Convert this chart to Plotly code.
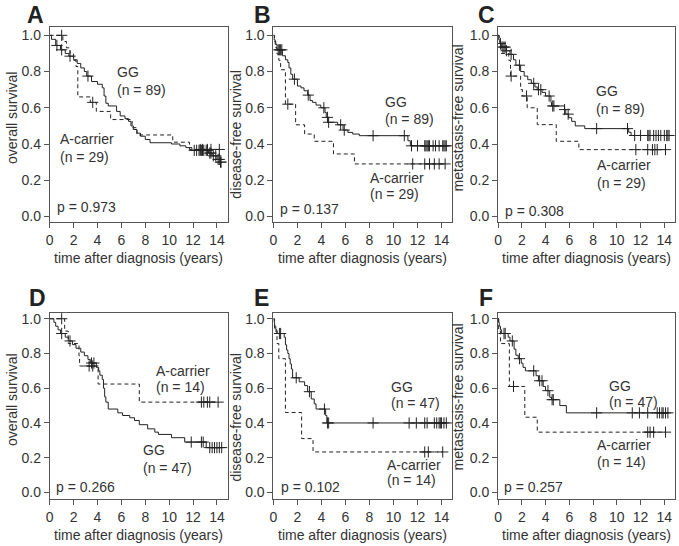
import plotly.graph_objects as go

# ---------------- data ----------------
# Panel A: overall survival, all patients
A_gg_t = [0.15, 0.5, 0.9, 1.3, 1.6, 2.0, 2.3, 2.6, 2.9, 3.1, 3.5, 4.0, 4.4, 4.55, 4.7, 4.9, 5.6, 5.9, 6.3, 6.6, 6.8, 7.0, 7.3, 7.6, 8.0, 8.4, 10.2, 10.9, 11.4, 11.9, 13.3, 13.6, 14.0, 14.3]
A_gg_s = [0.978, 0.944, 0.92, 0.90, 0.885, 0.865, 0.845, 0.82, 0.80, 0.775, 0.745, 0.73, 0.71, 0.665, 0.625, 0.61, 0.58, 0.555, 0.54, 0.525, 0.50, 0.48, 0.46, 0.443, 0.425, 0.407, 0.40, 0.39, 0.38, 0.365, 0.35, 0.335, 0.315, 0.30]
A_gg_c = [0.6, 1.0, 1.7, 3.2, 12.1, 12.3, 12.5, 12.6, 12.7, 12.8, 12.9, 13.1, 13.2, 13.4, 13.5, 13.7, 13.9, 14.1, 14.2, 14.3, 14.35]
A_ac_t = [1.1, 1.4, 1.7, 2.0, 2.2, 2.35, 3.4, 3.9, 5.1, 6.9, 7.3, 10.3, 11.7]
A_ac_s = [0.966, 0.931, 0.897, 0.862, 0.828, 0.66, 0.63, 0.58, 0.535, 0.49, 0.45, 0.41, 0.37]
A_ac_c = [1.0, 3.6, 12.6, 12.8, 13.2, 13.5, 14.2]

# Panel B: disease-free survival, all patients
B_gg_t = [0.05, 0.15, 0.3, 0.75, 1.0, 1.2, 1.3, 1.45, 1.6, 2.0, 2.3, 2.55, 2.85, 3.05, 3.25, 3.55, 3.95, 4.3, 4.4, 4.55, 5.35, 5.8, 6.2, 6.6, 7.15, 11.2, 11.4]
B_gg_s = [0.975, 0.95, 0.92, 0.887, 0.865, 0.85, 0.82, 0.785, 0.758, 0.72, 0.71, 0.694, 0.67, 0.64, 0.63, 0.615, 0.60, 0.574, 0.547, 0.52, 0.506, 0.477, 0.464, 0.455, 0.446, 0.418, 0.39]
B_gg_c = [0.4, 0.5, 0.6, 0.7, 1.75, 2.9, 4.2, 4.5, 4.6, 5.6, 5.9, 8.3, 10.9, 11.5, 12.0, 12.6, 12.7, 12.8, 12.9, 13.0, 13.3, 13.5, 13.8, 14.1, 14.2, 14.3, 14.4]
B_ac_t = [0.1, 0.2, 0.3, 0.45, 0.6, 1.0, 1.85, 2.6, 3.4, 5.0, 6.75]
B_ac_s = [0.966, 0.931, 0.897, 0.862, 0.81, 0.62, 0.506, 0.455, 0.415, 0.345, 0.29]
B_ac_c = [1.2, 11.6, 12.6, 13.0, 13.4, 13.8, 14.3]

# Panel C: metastasis-free survival, all patients
C_gg_t = [0.05, 0.15, 0.3, 0.7, 1.0, 1.3, 1.5, 1.9, 2.2, 2.5, 2.8, 3.1, 3.3, 3.7, 4.0, 4.45, 4.5, 5.6, 5.7, 5.95, 6.2, 6.5, 7.3, 11.0, 11.2]
C_gg_s = [0.975, 0.955, 0.935, 0.915, 0.895, 0.865, 0.835, 0.80, 0.775, 0.755, 0.735, 0.715, 0.70, 0.685, 0.665, 0.63, 0.61, 0.59, 0.565, 0.545, 0.525, 0.50, 0.485, 0.465, 0.447]
C_gg_c = [0.2, 0.4, 0.5, 0.6, 0.7, 1.1, 1.8, 3.0, 3.4, 3.6, 4.3, 4.6, 4.7, 5.6, 5.9, 8.3, 10.9, 11.5, 12.0, 12.6, 12.7, 12.8, 13.1, 13.3, 13.5, 13.7, 14.0, 14.2, 14.3, 14.4]
C_ac_t = [0.1, 0.25, 0.9, 1.05, 1.9, 2.05, 2.45, 3.3, 4.9, 6.8]
C_ac_s = [0.966, 0.90, 0.862, 0.775, 0.70, 0.665, 0.60, 0.507, 0.415, 0.369]
C_ac_c = [1.1, 2.4, 11.6, 12.6, 13.0, 13.2, 13.4, 14.1]

# Panel D: overall survival, subgroup
D_gg_t = [0.35, 0.5, 0.7, 0.9, 1.3, 1.55, 1.9, 2.2, 2.6, 2.9, 3.2, 3.4, 3.9, 4.1, 4.2, 4.4, 4.5, 4.6, 4.7, 4.9, 5.7, 6.1, 6.7, 7.1, 7.5, 8.2, 8.8, 9.1, 10.2, 11.3, 13.1]
D_gg_s = [0.979, 0.957, 0.936, 0.915, 0.894, 0.872, 0.851, 0.83, 0.808, 0.787, 0.766, 0.745, 0.72, 0.70, 0.675, 0.65, 0.60, 0.55, 0.52, 0.48, 0.458, 0.443, 0.43, 0.414, 0.39, 0.366, 0.347, 0.334, 0.315, 0.29, 0.258]
D_gg_c = [1.0, 1.7, 3.5, 3.7, 11.85, 12.7, 12.85, 13.4, 13.6, 13.8, 14.0, 14.2, 14.4]
D_ac_t = [1.25, 1.55, 2.45, 2.5, 4.05, 7.5]
D_ac_s = [0.929, 0.857, 0.786, 0.728, 0.624, 0.52]
D_ac_c = [1.0, 3.3, 3.6, 12.7, 12.9, 13.2, 13.4, 14.1]

# Panel E: disease-free survival, subgroup
E_gg_t = [0.05, 0.1, 0.2, 0.3, 0.9, 1.0, 1.1, 1.2, 1.3, 1.4, 1.5, 1.6, 2.15, 2.6, 2.85, 3.15, 3.4, 3.55, 4.35, 4.45]
E_gg_s = [0.979, 0.957, 0.936, 0.915, 0.894, 0.85, 0.82, 0.80, 0.77, 0.74, 0.71, 0.66, 0.637, 0.615, 0.58, 0.538, 0.51, 0.48, 0.443, 0.40]
E_gg_c = [0.5, 0.6, 1.9, 3.0, 4.25, 4.5, 4.6, 8.3, 11.3, 11.9, 12.6, 12.8, 13.4, 13.6, 13.8, 13.9, 14.0, 14.2, 14.4]
E_ac_t = [0.1, 0.3, 0.45, 1.0, 2.35, 3.3]
E_ac_s = [0.929, 0.857, 0.77, 0.46, 0.31, 0.233]
E_ac_c = [12.6, 12.9, 14.1]

# Panel F: metastasis-free survival, subgroup
F_gg_t = [0.05, 0.1, 0.2, 0.3, 0.85, 1.0, 1.35, 1.5, 1.7, 1.95, 2.1, 2.3, 3.2, 3.4, 3.8, 4.0, 4.35, 4.5, 5.2, 5.75]
F_gg_s = [0.979, 0.957, 0.936, 0.915, 0.894, 0.872, 0.825, 0.79, 0.77, 0.744, 0.72, 0.70, 0.672, 0.643, 0.61, 0.586, 0.548, 0.534, 0.50, 0.458]
F_gg_c = [0.5, 0.6, 1.2, 1.8, 3.0, 3.5, 3.7, 4.2, 4.55, 4.65, 8.3, 11.3, 11.9, 12.6, 13.4, 13.6, 13.8, 13.9, 14.1, 14.3]
F_ac_t = [0.05, 0.2, 0.95, 2.25, 3.3]
F_ac_s = [0.929, 0.857, 0.61, 0.433, 0.347]
F_ac_c = [1.3, 12.6, 12.8, 13.1, 14.1]

panel_letters = ["A", "B", "C", "D", "E", "F"]
y_titles = ["overall survival", "disease-free survival", "metastasis-free survival",
            "overall survival", "disease-free survival", "metastasis-free survival"]
x_title = "time after diagnosis (years)"
p_values = ["p = 0.973", "p = 0.137", "p = 0.308", "p = 0.266", "p = 0.102", "p = 0.257"]
n_gg = [89, 89, 89, 47, 47, 47]
n_ac = [29, 29, 29, 14, 14, 14]
x_ticks = [0, 2, 4, 6, 8, 10, 12, 14]
y_ticks = [0.0, 0.2, 0.4, 0.6, 0.8, 1.0]

panels = [
    (A_gg_t, A_gg_s, A_gg_c, A_ac_t, A_ac_s, A_ac_c),
    (B_gg_t, B_gg_s, B_gg_c, B_ac_t, B_ac_s, B_ac_c),
    (C_gg_t, C_gg_s, C_gg_c, C_ac_t, C_ac_s, C_ac_c),
    (D_gg_t, D_gg_s, D_gg_c, D_ac_t, D_ac_s, D_ac_c),
    (E_gg_t, E_gg_s, E_gg_c, E_ac_t, E_ac_s, E_ac_c),
    (F_gg_t, F_gg_s, F_gg_c, F_ac_t, F_ac_s, F_ac_c),
]

# ---------------- layout geometry ----------------
W, H = 679, 546
FONT = "Liberation Sans, Arial, sans-serif"
TXT = "#333333"
LINE = "#222222"
FRAME = "#555555"
FS = 14

col_px = [(46, 225), (271, 451), (497, 675)]
row_px = [(25, 221.7), (313.3, 500.7)]
row_yrange = [[-0.031, 1.047], [-0.038, 1.033]]
x_range = [0, 14.9]

# label positions (text placement in data coords, left aligned)
gg_pos = [(5.77, 0.80, 0.70), (9.48, 0.63, 0.538), (8.4, 0.69, 0.596),
          (7.95, 0.242, 0.141), (10.0, 0.605, 0.513), (9.52, 0.615, 0.523)]
ac_pos = [(1.03, 0.425, 0.33), (8.2, 0.211, 0.125), (8.46, 0.286, 0.185),
          (9.06, 0.70, 0.605), (9.66, 0.16, 0.07), (8.54, 0.275, 0.176)]
p_pos = [(0.75, 0.051), (0.75, 0.042), (0.73, 0.031), (0.7, 0.032), (0.76, 0.032), (0.7, 0.032)]
ytitle_pos = [(8, 116), (233, 134), (457, 117), (8, 400), (233, 419), (457, 398)]
letter_pos = [(21, 13), (249, 13), (475, 13), (23, 298), (249, 298), (476, 298)]
xtitle_y = [258, 537]


def surv_at(t, times, surv):
    s = 1.0
    for ti, si in zip(times, surv):
        if ti <= t:
            s = si
    return s


fig = go.Figure()
layout_axes = {}
for i, (gt, gs, gc, at, as_, ac) in enumerate(panels):
    r, c = divmod(i, 3)
    ax = "" if i == 0 else str(i + 1)
    xa, ya = "x" + ax, "y" + ax
    x0, x1 = col_px[c]
    y0, y1 = row_px[r]
    layout_axes["xaxis" + ax] = dict(
        domain=[x0 / W, x1 / W], range=x_range, anchor=ya,
        tickvals=x_ticks, ticks="outside", ticklen=5, tickcolor=FRAME,
        showline=True, linecolor=FRAME, linewidth=1, mirror=True,
        showgrid=False, zeroline=False,
        tickfont=dict(family=FONT, size=FS, color=TXT))
    layout_axes["yaxis" + ax] = dict(
        domain=[1 - y1 / H, 1 - y0 / H], range=row_yrange[r], anchor=xa,
        tickvals=y_ticks, tickformat=".1f", ticks="outside", ticklen=5, tickcolor=FRAME,
        showline=True, linecolor=FRAME, linewidth=1, mirror=True,
        showgrid=False, zeroline=False,
        tickfont=dict(family=FONT, size=FS, color=TXT))

    for times, surv, cens, dash in ((at, as_, ac, "4px,3px"), (gt, gs, gc, "solid")):
        end = max(max(cens), times[-1])
        fig.add_trace(go.Scatter(
            x=[0] + times + [end], y=[1.0] + surv + [surv[-1]],
            mode="lines", line=dict(shape="hv", color=LINE, width=1, dash=dash),
            xaxis=xa, yaxis=ya, showlegend=False, hoverinfo="skip"))
        fig.add_trace(go.Scatter(
            x=cens, y=[surv_at(t, times, surv) for t in cens],
            mode="markers",
            marker=dict(symbol="cross-thin", size=8, color=LINE,
                        line=dict(width=1, color=LINE)),
            xaxis=xa, yaxis=ya, showlegend=False, hoverinfo="skip"))

    tf = dict(family=FONT, size=FS, color=TXT)
    gx, gy1, gy2 = gg_pos[i]
    axx, ay1, ay2 = ac_pos[i]
    for txt, x, y in (("GG", gx, gy1), (f"(n = {n_gg[i]})", gx, gy2),
                      ("A-carrier", axx, ay1), (f"(n = {n_ac[i]})", axx, ay2),
                      (p_values[i], p_pos[i][0], p_pos[i][1])):
        fig.add_annotation(x=x, y=y, xref=xa, yref=ya, text=txt, showarrow=False,
                           xanchor="left", yanchor="middle", xshift=-4, font=tf)
    # y-axis title
    tx, ty = ytitle_pos[i]
    fig.add_annotation(x=tx / W, y=1 - ty / H, xref="paper", yref="paper",
                       text=y_titles[i], textangle=-90, showarrow=False,
                       xanchor="center", yanchor="middle", font=tf)
    # x-axis title
    fig.add_annotation(x=(x0 + x1) / 2 / W, y=1 - xtitle_y[r] / H, xref="paper", yref="paper",
                       text=x_title, showarrow=False, xanchor="center", yanchor="middle", font=tf)
    # panel letter
    lx, ly = letter_pos[i]
    fig.add_annotation(x=lx / W, y=1 - ly / H, xref="paper", yref="paper",
                       text=f"<b>{panel_letters[i]}</b>", showarrow=False,
                       xanchor="left", yanchor="middle",
                       font=dict(family=FONT, size=23, color="#222222"))

fig.update_layout(width=W, height=H, margin=dict(l=0, r=0, t=0, b=0),
                  paper_bgcolor="white", plot_bgcolor="white", **layout_axes)
fig.write_html("out.html", config={"displayModeBar": False},
               post_script="document.body.style.margin='0';document.body.style.overflow='hidden';")
